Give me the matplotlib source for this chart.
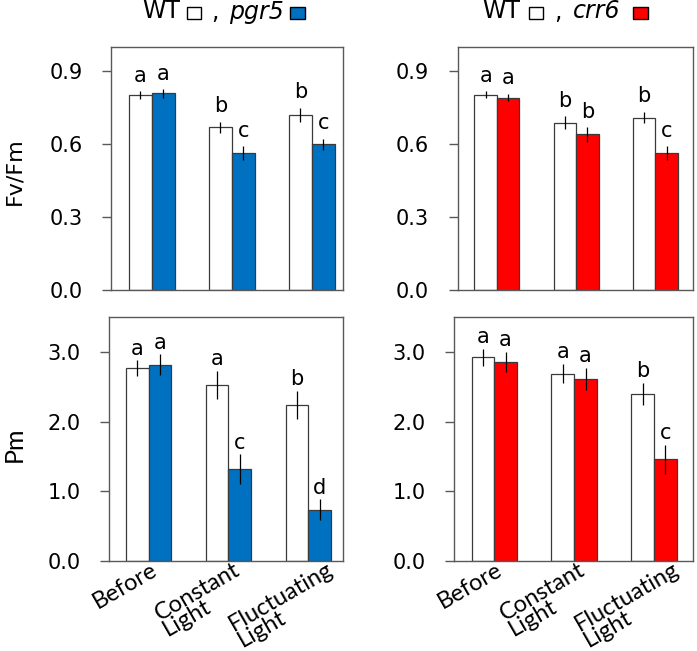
import matplotlib
matplotlib.use("Agg")
import matplotlib.pyplot as plt
from matplotlib.patches import Rectangle
from matplotlib.transforms import blended_transform_factory, offset_copy
import numpy as np

# ---------------- data ----------------
categories = ["Before", "Constant\nLight", "Fluctuating\nLight"]

fvfm_wt_a = [0.803, 0.669, 0.722]
fvfm_wt_a_err = [0.015, 0.024, 0.029]
fvfm_pgr5 = [0.809, 0.562, 0.600]
fvfm_pgr5_err = [0.017, 0.029, 0.022]
fvfm_wt_a_letters = ["a", "b", "b"]
fvfm_pgr5_letters = ["a", "c", "c"]

fvfm_wt_b = [0.803, 0.688, 0.709]
fvfm_wt_b_err = [0.014, 0.026, 0.023]
fvfm_crr6 = [0.792, 0.640, 0.564]
fvfm_crr6_err = [0.015, 0.029, 0.027]
fvfm_wt_b_letters = ["a", "b", "b"]
fvfm_crr6_letters = ["a", "b", "c"]

pm_wt_a = [2.767, 2.532, 2.245]
pm_wt_a_err = [0.117, 0.20, 0.20]
pm_pgr5 = [2.816, 1.319, 0.738]
pm_pgr5_err = [0.15, 0.216, 0.15]
pm_wt_a_letters = ["a", "a", "b"]
pm_pgr5_letters = ["a", "c", "d"]

pm_wt_b = [2.925, 2.690, 2.398]
pm_wt_b_err = [0.12, 0.14, 0.16]
pm_crr6 = [2.859, 2.614, 1.463]
pm_crr6_err = [0.144, 0.16, 0.21]
pm_wt_b_letters = ["a", "a", "b"]
pm_crr6_letters = ["a", "a", "c"]

fvfm_ticks = [0.0, 0.3, 0.6, 0.9]
pm_ticks = [0.0, 1.0, 2.0, 3.0]

# ---------------- style ----------------
BLUE = "#0070C0"
RED = "#FF0000"
EDGE = "#3a3a3a"
FRAME = "#595959"
W = 0.284
label_dx = [0, 2, 12]   # points, horizontal nudge of category labels

fig = plt.figure(figsize=(6.97, 6.51), dpi=100)
FW, FH = 697.0, 651.0


def add_axes(l, r, t, b):
    return fig.add_axes([l / FW, 1 - b / FH, (r - l) / FW, (b - t) / FH])


def panel(ax, wt, wt_err, mut, mut_err, wt_lab, mut_lab, color, ylim, yticks,
          xlim, fmt, letter_off, tick_family):
    x = np.arange(len(categories))
    ax.bar(x - W / 2, wt, W, color="white", edgecolor=EDGE, linewidth=0.9, zorder=2)
    ax.bar(x + W / 2, mut, W, color=color, edgecolor=EDGE, linewidth=0.9, zorder=2)
    ax.errorbar(x - W / 2, wt, yerr=wt_err, fmt="none", ecolor="black",
                elinewidth=0.9, capsize=0, zorder=3)
    ax.errorbar(x + W / 2, mut, yerr=mut_err, fmt="none", ecolor="black",
                elinewidth=0.9, capsize=0, zorder=3)
    for xs, ys, es, labs in ((x - W / 2, wt, wt_err, wt_lab),
                             (x + W / 2, mut, mut_err, mut_lab)):
        for xi, yi, ei, lab in zip(xs, ys, es, labs):
            ax.annotate(lab, (xi, yi + ei), xytext=(0, letter_off),
                        textcoords="offset points", ha="center", va="baseline",
                        fontsize=15, family="DejaVu Sans", color="black")
    ax.set_ylim(*ylim)
    ax.set_xlim(*xlim)
    ax.set_yticks(yticks)
    ax.set_yticklabels([fmt.format(v) for v in yticks], family=tick_family)
    ax.set_xticks([])
    for s in ax.spines.values():
        s.set_color(FRAME)
        s.set_linewidth(1.0)
    ax.tick_params(axis="y", direction="out", length=6.5, width=1.0,
                   color=FRAME, pad=14, labelsize=15, labelcolor="black")


ax_tl = add_axes(111, 343, 47, 290)
ax_tr = add_axes(457.7, 693.3, 47, 290)
ax_bl = add_axes(109, 343, 317.3, 561)
ax_br = add_axes(454.3, 693.3, 317.3, 561)

panel(ax_tl, fvfm_wt_a, fvfm_wt_a_err, fvfm_pgr5, fvfm_pgr5_err,
      fvfm_wt_a_letters, fvfm_pgr5_letters, BLUE, (0, 1.0), fvfm_ticks,
      (-0.51, 2.39), "{:.1f}", 7.0, "DejaVu Sans")
panel(ax_tr, fvfm_wt_b, fvfm_wt_b_err, fvfm_crr6, fvfm_crr6_err,
      fvfm_wt_b_letters, fvfm_crr6_letters, RED, (0, 1.0), fvfm_ticks,
      (-0.496, 2.479), "{:.1f}", 7.0, "DejaVu Sans")
panel(ax_bl, pm_wt_a, pm_wt_a_err, pm_pgr5, pm_pgr5_err,
      pm_wt_a_letters, pm_pgr5_letters, BLUE, (0, 3.5), pm_ticks,
      (-0.497, 2.435), "{:.1f}", 4.0, "DejaVu Sans")
panel(ax_br, pm_wt_b, pm_wt_b_err, pm_crr6, pm_crr6_err,
      pm_wt_b_letters, pm_crr6_letters, RED, (0, 3.5), pm_ticks,
      (-0.5, 2.49), "{:.1f}", 4.0, "DejaVu Sans")

# category labels under the bottom panels
for ax in (ax_bl, ax_br):
    trans = blended_transform_factory(ax.transData, ax.transAxes)
    for xi, lab, dx in zip(np.arange(len(categories)), categories, label_dx):
        ax.text(xi, 0, lab,
                transform=offset_copy(trans, fig=fig, x=dx + 1, y=1.5, units="points"),
                rotation=30, rotation_mode="anchor", ha="right", va="top",
                multialignment="left", fontsize=17, family="Lato",
                linespacing=0.8, color="black")

# y-axis titles
fig.text(14 / FW, 1 - 171 / FH, "Fv/Fm", rotation=90, ha="center", va="center",
         fontsize=16, family="DejaVu Sans")
fig.text(14 / FW, 1 - 444 / FH, "Pm", rotation=90, ha="center", va="center",
         fontsize=18, family="Lato")

# legend-like titles
base_y = 1 - 18.5 / FH


def title_row(x_wt, sq1, x_comma, x_mut, mut_name, sq2, color):
    fig.text(x_wt / FW, base_y, "WT", ha="left", va="baseline", fontsize=17,
             family="DejaVu Sans")
    fig.add_artist(Rectangle((sq1[0] / FW, 1 - 19 / FH), (sq1[1] - sq1[0]) / FW,
                             12 / FH, transform=fig.transFigure,
                             facecolor="white", edgecolor="black", linewidth=1.0))
    fig.text(x_comma / FW, base_y, ",", ha="left", va="baseline", fontsize=17,
             family="DejaVu Sans")
    fig.text(x_mut / FW, base_y, mut_name, ha="left", va="baseline", fontsize=17,
             family="DejaVu Sans", style="italic")
    fig.add_artist(Rectangle((sq2[0] / FW, 1 - 19 / FH), (sq2[1] - sq2[0]) / FW,
                             12 / FH, transform=fig.transFigure,
                             facecolor=color, edgecolor="black", linewidth=1.0))


title_row(142, (187.5, 201.5), 211, 229, "pgr5", (289.5, 304.5), BLUE)
title_row(482, (529, 543), 554, 572.5, "crr6", (633, 648), RED)

fig.savefig("out.png", dpi=100)
